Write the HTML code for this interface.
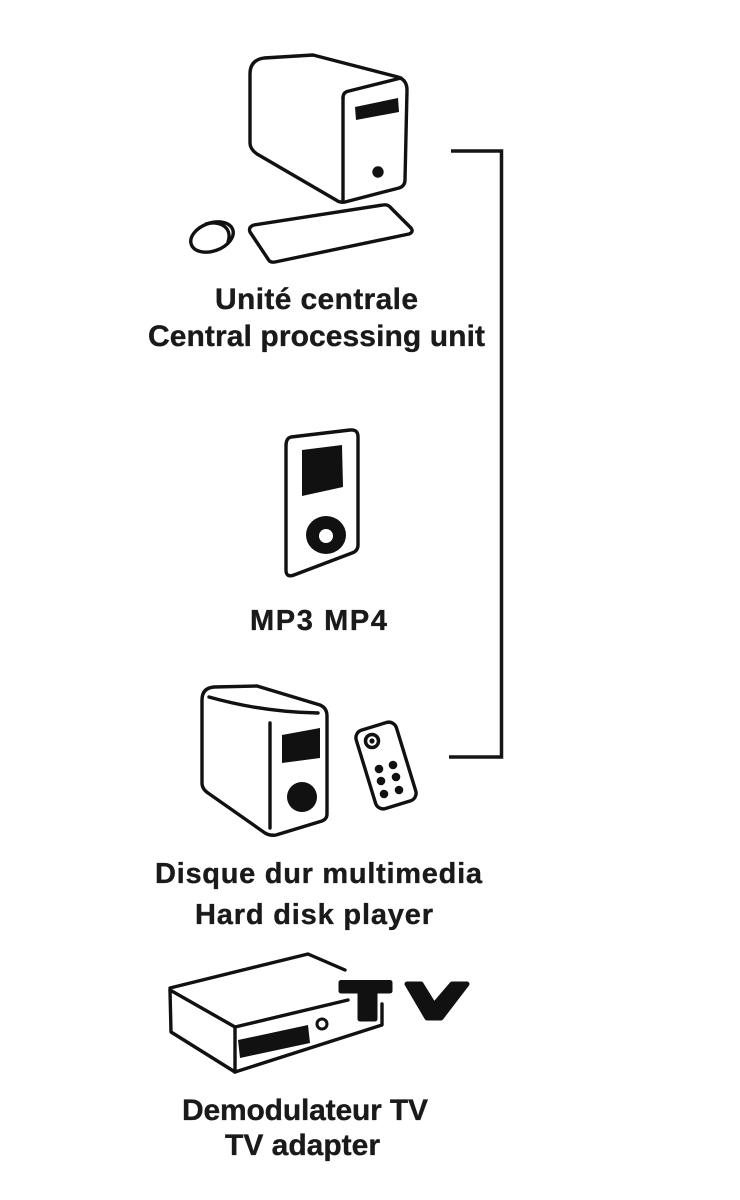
<!DOCTYPE html>
<html>
<head>
<meta charset="utf-8">
<style>
  html, body { margin:0; padding:0; background:#fff; }
  body { width:740px; height:1200px; overflow:hidden; }
  svg { display:block; }
  text { font-family:"Liberation Sans", "DejaVu Sans", sans-serif; font-weight:bold; fill:#1a1a1a; stroke:#1a1a1a; stroke-width:0.35; }
</style>
</head>
<body>
<svg width="740" height="1200" viewBox="0 0 740 1200" xmlns="http://www.w3.org/2000/svg">
  <rect width="740" height="1200" fill="#fff"/>

  <!-- bracket connector -->
  <path d="M 451 151 L 501.5 151 L 501.5 757 L 449 757" fill="none" stroke="#151515" stroke-width="3.5" stroke-linejoin="miter"/>

  <!-- Computer -->
  <g fill="none" stroke="#111" stroke-width="3.4" stroke-linejoin="round" stroke-linecap="round">
    <path d="M 250 143 L 250 74 Q 250 60 264 58 L 313 55 L 398 77 Q 407 80 407 90 L 405 180 Q 405 186 399 188 L 345 202 Q 340 203 336 200 L 257 154 Q 250 149 250 143 Z" fill="#fff"/>
    <path d="M 343 98 Q 343 92 349 91 L 401 78"/>
    <path d="M 343 98 L 343 201"/>
    <!-- keyboard -->
    <path d="M 254 225 L 383 205 Q 388 204 391 208 L 411 228 Q 414 232 409 234 L 275 262 Q 270 263 268 259 L 250 232 Q 248 227 254 225 Z"/>
    <!-- mouse -->
    <ellipse cx="212" cy="237" rx="22" ry="14" transform="rotate(-20 212 237)"/>
    <path d="M 206 224 C 219 220 233 227 228 242"/>
  </g>
  <polygon points="355,107 398,98 399,112 356,120" fill="#111"/>
  <circle cx="378" cy="172" r="5.7" fill="#111"/>

  <!-- MP3 player -->
  <g fill="none" stroke="#111" stroke-width="3.4" stroke-linejoin="round">
    <path d="M 291 437 L 350 430 Q 358 429 358 437 L 358 545 Q 358 551 352 553 L 294 575 Q 286 578 286 570 L 286 446 Q 286 438 291 437 Z"/>
  </g>
  <polygon points="302,450 342,445 343,487 302,496" fill="#111"/>
  <ellipse cx="326" cy="535" rx="20" ry="19" fill="#111"/>
  <circle cx="326" cy="536" r="7" fill="#fff"/>

  <!-- Hard disk player speaker -->
  <g fill="none" stroke="#111" stroke-width="3.4" stroke-linejoin="round" stroke-linecap="round">
    <path d="M 202 700 Q 202 688 214 687 L 257 686 L 320 705 Q 327 708 327 716 L 327 814 Q 327 819 322 821 L 276 835 Q 270 836 265 833 L 208 793 Q 202 789 202 783 Z"/>
    <path d="M 209 697 Q 262 712 318 713"/>
    <path d="M 270 723 L 270 828"/>
  </g>
  <polygon points="282,735 320,728 320,758 282,763" fill="#111"/>
  <circle cx="302" cy="797" r="15" fill="#111"/>

  <!-- Remote -->
  <rect x="365" y="724.5" width="42" height="82" rx="8" ry="8" transform="rotate(-17 386 765.5)" fill="none" stroke="#111" stroke-width="3.4"/>
  <circle cx="372" cy="741" r="6.5" fill="none" stroke="#111" stroke-width="3.5"/>
  <circle cx="372" cy="741" r="2.6" fill="#111"/>
  <g fill="#111">
    <circle cx="379" cy="769" r="4.3"/>
    <circle cx="393" cy="765" r="4.3"/>
    <circle cx="381" cy="781" r="4.3"/>
    <circle cx="396" cy="777" r="4.3"/>
    <circle cx="384" cy="794" r="4.3"/>
    <circle cx="399" cy="790" r="4.3"/>
  </g>

  <!-- TV adapter box -->
  <g fill="none" stroke="#111" stroke-width="3.4" stroke-linejoin="round" stroke-linecap="round">
    <path d="M 170 988 L 308 954 L 345 970"/>
    <path d="M 170 990 L 235 1027"/>
    <path d="M 170 990 L 171 1032 L 235 1072"/>
    <path d="M 235 1027 L 235 1072"/>
    <path d="M 235 1027 L 348 1000"/>
    <path d="M 235 1072 L 382 1025 L 382 1004"/>
  </g>
  <polygon points="238,1040 308,1025 310,1043 240,1058" fill="#111"/>
  <circle cx="322" cy="1024" r="5" fill="none" stroke="#111" stroke-width="3"/>
  <!-- TV letters -->
  <g fill="#111" stroke="#111" stroke-width="5" stroke-linejoin="round">
    <path d="M 341 982.5 L 390 982.5 L 390 991 L 375 991 L 375 1019 L 360 1019 L 360 991 L 341 991 Z"/>
    <path d="M 407 984 L 421 984 L 434 1005 L 452 984 L 467 984 L 441 1018 L 427 1018 Z"/>
  </g>

  <!-- Labels -->
  <text x="316.5" y="309" font-size="30" text-anchor="middle" textLength="203" lengthAdjust="spacing">Unité centrale</text>
  <text x="316.5" y="346" font-size="30" text-anchor="middle" textLength="337" lengthAdjust="spacing">Central processing unit</text>
  <text x="318.5" y="630" font-size="29" text-anchor="middle" textLength="137" lengthAdjust="spacing">MP3 MP4</text>
  <text x="318.5" y="883" font-size="29" text-anchor="middle" textLength="327" lengthAdjust="spacing">Disque dur multimedia</text>
  <text x="314" y="924" font-size="29" text-anchor="middle" textLength="238" lengthAdjust="spacing">Hard disk player</text>
  <text x="305" y="1120" font-size="30" text-anchor="middle" textLength="246" lengthAdjust="spacing">Demodulateur TV</text>
  <text x="302.5" y="1155" font-size="30" text-anchor="middle" textLength="155" lengthAdjust="spacing">TV adapter</text>
</svg>
</body>
</html>
